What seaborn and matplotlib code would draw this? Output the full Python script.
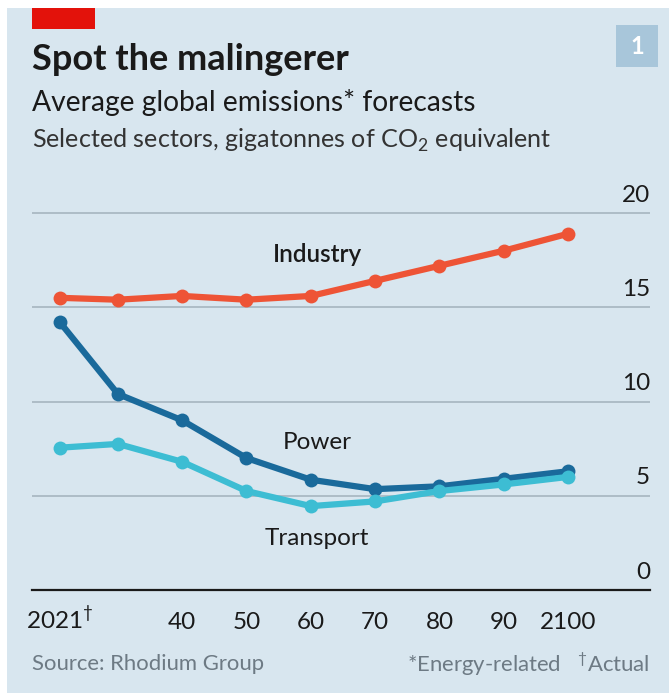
import matplotlib
matplotlib.use("Agg")
import matplotlib.pyplot as plt
from matplotlib.patches import Rectangle
import seaborn as sns
import pandas as pd

# Данні
years = [2021, 2030, 2040, 2050, 2060, 2070, 2080, 2090, 2100]
industry = [15.5, 15.4, 15.6, 15.4, 15.6, 16.4, 17.2, 18.0, 18.9]
power = [14.2, 10.4, 9.0, 7.0, 5.85, 5.35, 5.5, 5.9, 6.3]
transport = [7.55, 7.75, 6.8, 5.25, 4.45, 4.7, 5.25, 5.6, 6.0]

sectors = ["Industry", "Power", "Transport"]
xtick_vals = [2021, 2030, 2040, 2050, 2060, 2070, 2080, 2090, 2100]
xtick_labels = ["2021$^{\\dagger}$", "", "40", "50", "60", "70", "80", "90", "2100"]
ytick_vals = [0, 5, 10, 15, 20]

BG = "#d8e6ef"
TXT = "#1a1a1a"
palette = {"Industry": "#ee5436", "Power": "#1a6a9b", "Transport": "#3dbdd3"}

df = pd.DataFrame({
    "year": years * 3,
    "value": industry + power + transport,
    "sector": [s for s in sectors for _ in years],
})

sns.set_style("white")
plt.rcParams["font.family"] = ["Lato", "DejaVu Sans"]
plt.rcParams["mathtext.fontset"] = "custom"
plt.rcParams["mathtext.rm"] = "Lato"

W, H = 669, 693
fig = plt.figure(figsize=(W / 100, H / 100), dpi=100, facecolor="white")
fig.patches.append(Rectangle((7 / W, 0), 1 - 7 / W, 1 - 8 / H, transform=fig.transFigure,
                             facecolor=BG, edgecolor="none", zorder=-10))
# червоний прямокутник і номер графіка
fig.patches.append(Rectangle((32 / W, 1 - 29 / H), 63 / W, 21 / H, transform=fig.transFigure,
                             facecolor="#e3120b", edgecolor="none", zorder=-5))
fig.patches.append(Rectangle((616 / W, 1 - 67 / H), 42 / W, 42 / H, transform=fig.transFigure,
                             facecolor="#a8c6da", edgecolor="none", zorder=-5))
fig.text(637 / W, 1 - 46 / H, "1", color="white", fontsize=17, fontweight="bold",
         ha="center", va="center")

fig.text(32 / W, 1 - 60 / H, "Spot the malingerer", fontsize=26, fontweight="bold",
         color=TXT, va="center")
fig.text(32 / W, 1 - 102 / H, "Average global emissions* forecasts", fontsize=20.3,
         color=TXT, va="center")
fig.text(32 / W, 1 - 140 / H, "Selected sectors, gigatonnes of CO$_2$ equivalent", fontsize=18.1,
         color="#333333", va="center")

x0, x1 = 32, 650
y_bot = 590
px_unit = 18.85
ytop = 21.0
ax = fig.add_axes([x0 / W, 1 - y_bot / H, (x1 - x0) / W, ytop * px_unit / H])
ax.set_facecolor("none")
ax.set_zorder(1)

for v in ytick_vals[1:]:
    ax.axhline(v, color="#adbcc6", lw=1.4, zorder=1)

sns.lineplot(data=df, x="year", y="value", hue="sector", palette=palette, ax=ax,
             lw=4.5, marker="o", markersize=10, markeredgewidth=0, legend=False, zorder=3)

px_year = 6.44
ax.set_xlim(2021 - 28 / px_year, 2100 + (x1 - 568) / px_year)
ax.set_ylim(0, ytop)

for s in ["top", "right", "left"]:
    ax.spines[s].set_visible(False)
ax.spines["bottom"].set_color(TXT)
ax.spines["bottom"].set_linewidth(1.6)
ax.set_yticks([])
ax.set_xticks(xtick_vals)
ax.set_xticklabels(xtick_labels, fontsize=17.5, color=TXT, va="baseline")
ax.tick_params(axis="x", length=9, width=1.6, color=TXT, pad=19, direction="out")
ax.set_xlabel("")
ax.set_ylabel("")

for v in ytick_vals:
    ax.text(1.0, v + 0.95, str(v), transform=ax.get_yaxis_transform(), ha="right",
            va="center", fontsize=17.5, color=TXT)

ax.text(2061, 17.8, "Industry", fontsize=17.5, fontweight="semibold", color=TXT,
        ha="center", va="center")
ax.text(2061, 7.8, "Power", fontsize=17.5, color=TXT, ha="center", va="center")
ax.text(2061, 2.75, "Transport", fontsize=17.5, color=TXT, ha="center", va="center")

fig.text(32 / W, 1 - 664 / H, "Source: Rhodium Group", fontsize=15.9, color="#6d7a84",
         va="center")
fig.text(650 / W, 1 - 664 / H, "*Energy-related   $^{\\dagger}$Actual", fontsize=15.9,
         color="#6d7a84", va="center", ha="right")

fig.savefig("out.png", dpi=100, facecolor="white")
